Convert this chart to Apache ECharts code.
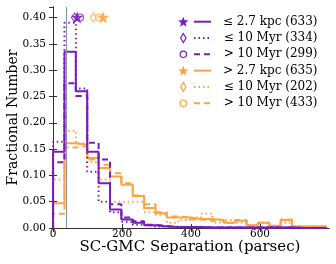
<!DOCTYPE html>
<html><head><meta charset="utf-8">
<script src="https://cdn.jsdelivr.net/npm/echarts@6/dist/echarts.min.js"></script>
<style>html,body{margin:0;padding:0;background:#fff}#c{width:336px;height:264px}</style>
</head><body><div id="c"></div>
<script>
// bin edges (parsec)
const binEdges = [0,33,66,99,132,165,198,231,264,297,330,363,396,429,462,495,528,561,594,627,660,693,726,759,792];
// fractional numbers per bin
const innerAll   = [0.145,0.335,0.260,0.145,0.085,0.035,0.016,0.010,0.005,0.003,0.002,0.002,0.002,0.001,0.001,0.001,0.001,0.001,0.001,0.001,0.001,0,0,0];
const innerYoung = [0.164,0.390,0.265,0.107,0.050,0.030,0.012,0.006,0.003,0.003,0.002,0.001,0.001,0.001,0.001,0.001,0.001,0.001,0.001,0.001,0.001,0,0,0];
const innerOld   = [0.125,0.275,0.251,0.162,0.130,0.045,0.020,0.013,0.006,0.004,0.002,0.002,0.002,0.001,0.001,0.001,0.001,0.001,0.001,0.001,0.001,0,0,0];
const outerAll   = [0.047,0.161,0.158,0.133,0.114,0.098,0.082,0.061,0.038,0.028,0.020,0.020,0.017,0.017,0.015,0.010,0.014,0.005,0.010,0.004,0.015,0.003,0.003,0.003];
const outerYoung = [0.092,0.185,0.161,0.125,0.092,0.050,0.050,0.050,0.030,0.025,0.010,0.015,0.020,0.027,0.010,0.015,0.010,0.005,0.010,0.005,0.010,0.003,0.003,0.003];
const outerOld   = [0.027,0.153,0.156,0.130,0.120,0.104,0.085,0.062,0.045,0.030,0.022,0.020,0.016,0.014,0.015,0.010,0.015,0.005,0.010,0.004,0.016,0.003,0.003,0.003];
// medians shown at top
const medX = {innerAll:70, innerYoung:62, innerOld:78, outerAll:145, outerYoung:117, outerOld:134};
const medY = 0.40;
const sepLine = 38;
const legendLabels = ['\u2264 2.7 kpc (633)','\u2264 10 Myr (334)','> 10 Myr (299)','> 2.7 kpc (635)','\u2264 10 Myr (202)','> 10 Myr (433)'];
const xTicks = [0,200,400,600];

const PURPLE = '#7a1cbc', ORANGE = '#fca445';
function stepData(vals){
  const d = [[binEdges[0],0]];
  for(let i=0;i<vals.length;i++) d.push([binEdges[i],vals[i]]);
  d.push([binEdges[vals.length],vals[vals.length-1]]);
  d.push([binEdges[vals.length],0]);
  return d;
}
const starPath = 'path://M50,0 L61.8,35.5 L99,35.5 L69,57.5 L80.5,93 L50,71 L19.5,93 L31,57.5 L1,35.5 L38.2,35.5 Z';
function hist(vals,color,type){
  return {type:'line',step:'end',data:stepData(vals),showSymbol:false,silent:true,
    lineStyle:{color:color,width:2,type:type==='dotted'?[1.5,3]:type==='dashed'?[6,4]:'solid'},z:3};
}
function med(x,color,sym,filled,size){
  return {type:'scatter',data:[[x,medY]],symbol:sym,symbolSize:size,silent:true,
    itemStyle:{color:filled?color:'#fff',borderColor:color,borderWidth:1.2},z:5};
}
const FONT = 'DejaVu Serif';
const axisCommon = {axisLine:{lineStyle:{color:'#333',width:1}},splitLine:{show:false}};
const option = {
  animation:false,
  textStyle:{fontFamily:FONT},
  grid:{left:51,right:7,top:7,bottom:36,outerBoundsMode:'none',containLabel:false},
  xAxis:[
    {type:'value',min:-6,max:800,position:'bottom',...axisCommon,
     axisTick:{inside:true,length:4,customValues:xTicks,lineStyle:{color:'#333'}},
     axisLabel:{customValues:xTicks,color:'#000',fontFamily:FONT,fontSize:10.5,margin:1},
     name:'SC-GMC Separation (parsec)',nameLocation:'middle',nameGap:12,nameMoveOverlap:false,
     nameTextStyle:{fontFamily:FONT,fontSize:15,color:'#000'}},
    {type:'value',min:-6,max:800,position:'top',...axisCommon,
     axisTick:{inside:true,length:4,customValues:xTicks,lineStyle:{color:'#333'}},
     axisLabel:{show:false}}
  ],
  yAxis:[
    {type:'value',min:0,max:0.42,interval:0.05,...axisCommon,
     axisTick:{inside:true,length:4,lineStyle:{color:'#333'}},
     axisLabel:{color:'#000',fontFamily:FONT,fontSize:10.5,margin:5,formatter:v=>v.toFixed(2)},
     name:'Fractional Number',nameLocation:'middle',nameGap:31,nameMoveOverlap:false,
     nameTextStyle:{fontFamily:FONT,fontSize:14,color:'#000'}},
    {type:'value',min:0,max:0.42,interval:0.05,position:'right',...axisCommon,
     axisTick:{inside:true,length:4,lineStyle:{color:'#333'}},axisLabel:{show:false}}
  ],
  series:[
    {type:'line',data:[],markLine:{silent:true,symbol:'none',label:{show:false},
      lineStyle:{color:'#8797a8',width:1.2,type:'solid'},data:[{xAxis:sepLine}]}},
    hist(outerAll,ORANGE,'solid'),hist(outerYoung,ORANGE,'dotted'),hist(outerOld,ORANGE,'dashed'),
    hist(innerAll,PURPLE,'solid'),hist(innerYoung,PURPLE,'dotted'),hist(innerOld,PURPLE,'dashed'),
    med(medX.outerYoung,ORANGE,'diamond',false,[6,9]),med(medX.outerOld,ORANGE,'circle',false,7),med(medX.outerAll,ORANGE,starPath,true,9),
    med(medX.innerOld,PURPLE,'circle',false,7),med(medX.innerYoung,PURPLE,'diamond',false,[6,9]),med(medX.innerAll,PURPLE,starPath,true,9)
  ]
};
// legend drawn as graphics
const legendColors=[PURPLE,PURPLE,PURPLE,ORANGE,ORANGE,ORANGE];
const legendTypes=['solid','dotted','dashed','solid','dotted','dashed'];
const legendSyms=['star','diamond','circle','star','diamond','circle'];
const g=[];
for(let i=0;i<6;i++){
  const y=21.7+i*16.3, c=legendColors[i];
  const ld = legendTypes[i]==='dotted'?[1.5,3]:legendTypes[i]==='dashed'?[6,4]:null;
  g.push({type:'line',shape:{x1:194,y1:y,x2:211,y2:y},style:{stroke:c,lineWidth:2,lineDash:ld}});
  if(legendSyms[i]==='star'){
    const pts=[];for(let k=0;k<10;k++){const r=k%2?2.3:5.5,a=-Math.PI/2+k*Math.PI/5;pts.push([183.3+r*Math.cos(a),y+0.5+r*Math.sin(a)]);}
    g.push({type:'polygon',shape:{points:pts},style:{fill:c}});
  } else if(legendSyms[i]==='diamond'){
    g.push({type:'polygon',shape:{points:[[183.3,y-4.5],[186,y],[183.3,y+4.5],[180.6,y]]},style:{fill:'#fff',stroke:c,lineWidth:1.2}});
  } else {
    g.push({type:'circle',shape:{cx:183.3,cy:y,r:3.2},style:{fill:'#fff',stroke:c,lineWidth:1.2}});
  }
  g.push({type:'text',x:317.5,y:y,style:{text:legendLabels[i],fill:'#000',font:'12px "DejaVu Serif"',textAlign:'right',textVerticalAlign:'middle'}});
}
option.graphic=g;
const chart=echarts.init(document.getElementById('c'),null,{renderer:'canvas'});
chart.setOption(option);
</script></body></html>
